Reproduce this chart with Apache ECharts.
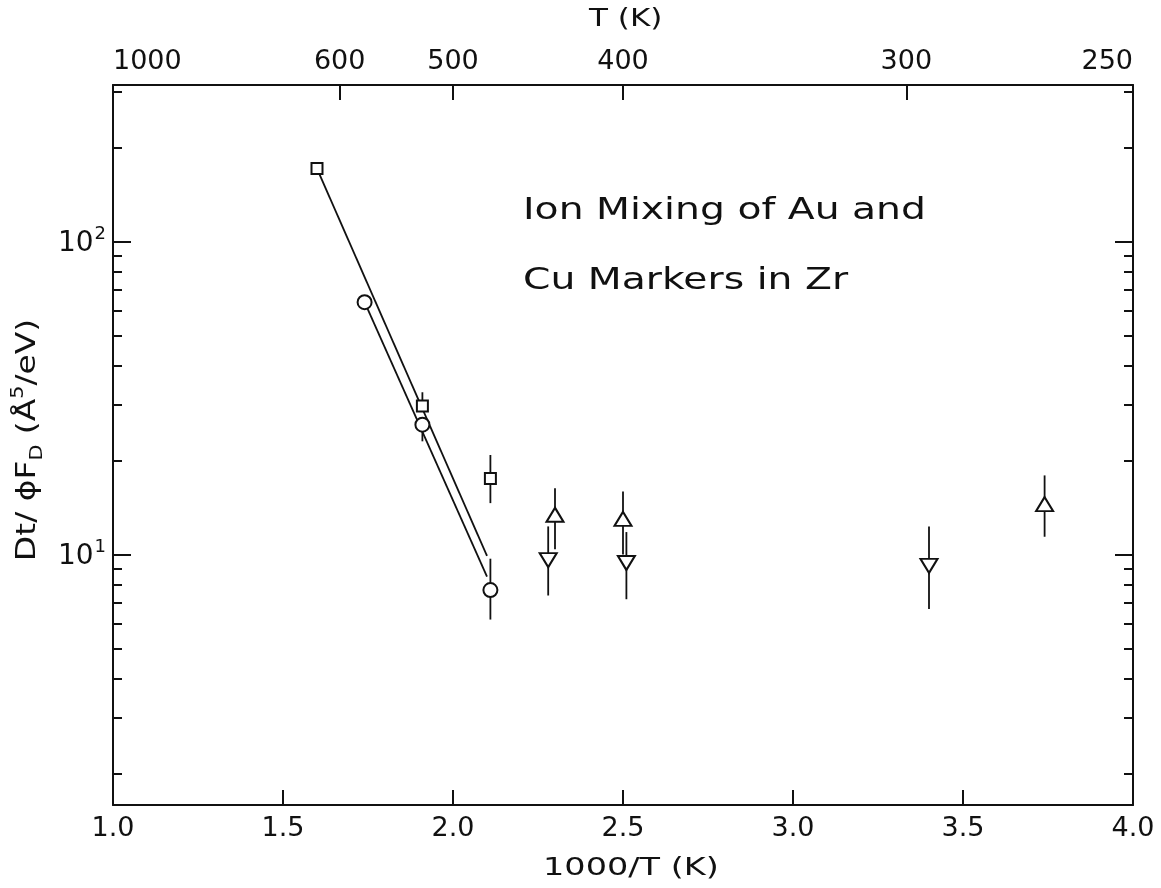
<!DOCTYPE html>
<html>
<head>
<meta charset="utf-8">
<title>Ion Mixing of Au and Cu Markers in Zr</title>
<script src="https://cdn.jsdelivr.net/npm/echarts@6/dist/echarts.min.js"></script>
<style>
  html, body { margin: 0; padding: 0; background: #fff; }
  #chart { width: 1161px; height: 888px; }
</style>
</head>
<body>
<div id="chart"></div>
<script>
// Inverse temperature (1000/T) and Dt/(phi F_D) values with error limits
const squareX  = [1.60, 1.91, 2.11];
const squareY  = [171, 29.8, 17.5];
const squareLo = [171, 29.8, 14.6];
const squareHi = [171, 33.0, 20.8];

const circleX  = [1.74, 1.91, 2.11];
const circleY  = [64, 26, 7.7];
const circleLo = [61, 23, 6.2];
const circleHi = [67, 26, 9.7];

const upX  = [2.30, 2.50, 3.74];
const upY  = [13.4, 13.0, 14.5];
const upLo = [10.4, 10.0, 11.4];
const upHi = [16.3, 15.9, 17.9];

const downX  = [2.28, 2.51, 3.40];
const downY  = [9.6, 9.4, 9.2];
const downLo = [7.4, 7.2, 6.7];
const downHi = [12.3, 11.8, 12.3];

// Arrhenius fit lines (end points)
const fitSquare = [[1.60, 171], [2.10, 9.9]];
const fitCircle = [[1.74, 64], [2.10, 8.5]];

// Axis ticks
const xTicks = [1.0, 1.5, 2.0, 2.5, 3.0, 3.5, 4.0];
const tempTicks = [1000, 600, 500, 400, 300, 250];
const yMajor = [10, 100];
const yMinor = [2, 3, 4, 5, 6, 7, 8, 9, 20, 30, 40, 50, 60, 70, 80, 90, 200, 300];

const FONT = '"DejaVu Sans", "Liberation Sans", sans-serif';
const INK = '#111';
const yMin = Math.pow(10, 0.2);
const yMax = Math.pow(10, 2.5);

const zip = (xs, ys) => xs.map((x, i) => [x, ys[i]]);
const bars = (xs, lo, hi) => xs.map((x, i) => [x, lo[i], hi[i]]);

function errorBars(data) {
  return {
    type: 'custom',
    xAxisIndex: 0,
    yAxisIndex: 0,
    z: 2,
    silent: true,
    data: data,
    renderItem: function (params, api) {
      const p1 = api.coord([api.value(0), api.value(1)]);
      const p2 = api.coord([api.value(0), api.value(2)]);
      return {
        type: 'line',
        shape: { x1: p1[0], y1: p1[1], x2: p2[0], y2: p2[1] },
        style: { stroke: INK, lineWidth: 1.8 }
      };
    }
  };
}

function markers(data, symbol, size, rotate) {
  return {
    type: 'scatter',
    xAxisIndex: 0,
    yAxisIndex: 0,
    z: 5,
    silent: true,
    symbol: symbol,
    symbolSize: size,
    symbolRotate: rotate || 0,
    itemStyle: { color: '#fff', borderColor: INK, borderWidth: 2, opacity: 1 },
    data: data
  };
}

function fitLine(data) {
  return {
    type: 'line',
    xAxisIndex: 0,
    yAxisIndex: 0,
    z: 3,
    silent: true,
    showSymbol: false,
    symbol: 'none',
    lineStyle: { color: INK, width: 1.8 },
    data: data
  };
}

function logAxis(position, tickValues, tickLen, showLine, showLabels) {
  return {
    type: 'log',
    logBase: 10,
    position: position,
    min: yMin,
    max: yMax,
    splitLine: { show: false },
    axisLine: { show: showLine, lineStyle: { color: INK, width: 2 } },
    axisTick: {
      show: true, inside: true, length: tickLen,
      customValues: tickValues,
      lineStyle: { color: INK, width: 2 }
    },
    axisLabel: showLabels ? {
      show: true,
      customValues: yMajor,
      margin: 7,
      formatter: function (v) {
        return '{b|10}{s|' + Math.round(Math.log10(v)) + '}';
      },
      rich: {
        b: { fontFamily: FONT, fontSize: 28, color: INK, verticalAlign: 'bottom', lineHeight: 32 },
        s: { fontFamily: FONT, fontSize: 18, color: INK, verticalAlign: 'top', lineHeight: 32, padding: [0, 0, 14, 1] }
      }
    } : { show: false }
  };
}

// Stretched caption text, drawn with the wide lettering of the plot
function caption(text, x, y, size, sx, extra) {
  return Object.assign({
    type: 'text',
    x: x, y: y,
    scaleX: sx,
    silent: true,
    style: { text: text, fontFamily: FONT, fontSize: size, fill: INK, align: 'left', verticalAlign: 'middle' }
  }, extra || {});
}

const chart = echarts.init(document.getElementById('chart'), null, { renderer: 'canvas' });

chart.setOption({
  backgroundColor: '#fff',
  animation: false,
  grid: { left: 113, right: 28, top: 85, bottom: 83, containLabel: false },
  xAxis: [
    {
      type: 'value',
      position: 'bottom',
      min: 1, max: 4, interval: 0.5,
      splitLine: { show: false },
      axisLine: { show: true, lineStyle: { color: INK, width: 2 } },
      axisTick: { show: true, inside: true, length: 15, customValues: xTicks.slice(1, -1), lineStyle: { color: INK, width: 2 } },
      axisLabel: {
        show: true, margin: 10,
        customValues: xTicks,
        fontFamily: FONT, fontSize: 27, color: INK,
        formatter: function (v) { return v.toFixed(1); }
      }
    },
    {
      type: 'value',
      position: 'top',
      min: 1, max: 4,
      splitLine: { show: false },
      axisLine: { show: true, lineStyle: { color: INK, width: 2 } },
      axisTick: {
        show: true, inside: true, length: 15,
        customValues: tempTicks.slice(1, -1).map(t => 1000 / t),
        lineStyle: { color: INK, width: 2 }
      },
      axisLabel: {
        show: true, margin: 10,
        customValues: tempTicks.map(t => 1000 / t),
        alignMinLabel: 'left',
        alignMaxLabel: 'right',
        fontFamily: FONT, fontSize: 27, color: INK,
        formatter: function (v) { return String(Math.round(1000 / v)); }
      }
    }
  ],
  yAxis: [
    logAxis('left', yMajor, 18, true, true),
    logAxis('left', yMinor, 9, false, false),
    logAxis('right', yMajor, 18, true, false),
    logAxis('right', yMinor, 9, false, false)
  ],
  graphic: [
    {
      type: 'text',
      x: 28, y: 440,
      rotation: Math.PI / 2,
      scaleX: 1.22,
      silent: true,
      style: {
        text: '{n|Dt/ \u03D5F}{sub|D}{n| (\u00C5}{sup|5}{n|/eV)}',
        align: 'center',
        verticalAlign: 'middle',
        rich: {
          n: { fontFamily: FONT, fontSize: 27, fill: INK, lineHeight: 36 },
          sub: { fontFamily: FONT, fontSize: 17, fill: INK, lineHeight: 36, verticalAlign: 'bottom', padding: [10, 0, 0, 0] },
          sup: { fontFamily: FONT, fontSize: 17, fill: INK, lineHeight: 36, verticalAlign: 'top', padding: [0, 0, 12, 0] }
        }
      }
    },
    caption('T (K)', 589, 19, 25, 1.24),
    caption('1000/T (K)', 543, 868, 25, 1.34),
    caption('Ion Mixing of Au and', 523, 211, 30, 1.31),
    caption('Cu Markers in Zr', 523, 281, 30, 1.31)
  ],
  series: [
    fitLine(fitSquare),
    fitLine(fitCircle),
    errorBars(bars(squareX, squareLo, squareHi)),
    errorBars(bars(circleX, circleLo, circleHi)),
    errorBars(bars(upX, upLo, upHi)),
    errorBars(bars(downX, downLo, downHi)),
    markers(zip(squareX, squareY), 'rect', 11),
    markers(zip(circleX, circleY), 'circle', 14),
    markers(zip(upX, upY), 'triangle', [17, 14]),
    markers(zip(downX, downY), 'triangle', [17, 14], 180)
  ]
});
</script>
</body>
</html>
